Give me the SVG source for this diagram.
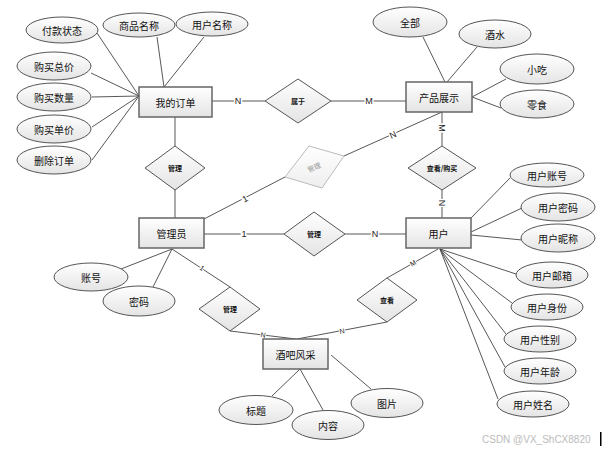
<svg xmlns="http://www.w3.org/2000/svg" width="602" height="450" viewBox="0 0 602 450">
<defs>
<linearGradient id="g" x1="0" y1="0" x2="0" y2="1">
<stop offset="0" stop-color="#ffffff"/>
<stop offset="1" stop-color="#e4e4e4"/>
</linearGradient>
<linearGradient id="gg" x1="0" y1="0" x2="0" y2="1">
<stop offset="0" stop-color="#ffffff"/>
<stop offset="1" stop-color="#eeeeee"/>
</linearGradient>
<style>
.e{fill:url(#g);stroke:#555;stroke-width:1}
.r{fill:url(#g);stroke:#666;stroke-width:1.5}
.d{fill:url(#g);stroke:#555;stroke-width:1}
.dg{fill:url(#gg);stroke:#bbb;stroke-width:1}
.t{font-family:"Noto Sans CJK SC","Liberation Sans",sans-serif;font-size:10px;fill:#111;text-anchor:middle;dominant-baseline:central}
.ts{font-family:"Noto Sans CJK SC","Liberation Sans",sans-serif;font-size:7px;fill:#111;text-anchor:middle;dominant-baseline:central;font-weight:bold}
.c line{stroke:#444;stroke-width:0.9}
.l{font-family:"Liberation Sans",sans-serif;font-size:9px;fill:#222;text-anchor:middle;dominant-baseline:central;paint-order:stroke;stroke:#fff;stroke-width:3}
.ls{font-family:"Liberation Sans",sans-serif;font-size:7px;fill:#222;text-anchor:middle;dominant-baseline:central;paint-order:stroke;stroke:#fff;stroke-width:2}
</style>
</defs>
<rect width="602" height="450" fill="#fff"/>
<g class="c" id="connectors">
<line x1="97" y1="33" x2="139" y2="96"/>
<line x1="157" y1="37" x2="164" y2="87"/>
<line x1="204" y1="37" x2="164" y2="87"/>
<line x1="91" y1="73" x2="139" y2="96"/>
<line x1="92" y1="97" x2="139" y2="96"/>
<line x1="92" y1="127" x2="139" y2="96"/>
<line x1="92" y1="160" x2="139" y2="96"/>
<line x1="212" y1="101" x2="265" y2="101"/>
<line x1="331" y1="101" x2="406" y2="101"/>
<line x1="175" y1="117" x2="175" y2="146"/>
<line x1="175" y1="190" x2="175" y2="219"/>
<line x1="423" y1="37" x2="445" y2="82"/>
<line x1="477" y1="47" x2="447" y2="82"/>
<line x1="506" y1="79" x2="472" y2="97"/>
<line x1="501" y1="108" x2="472" y2="97"/>
<line x1="442" y1="112" x2="442" y2="146"/>
<line x1="442" y1="190" x2="442" y2="219"/>
<line x1="204" y1="219" x2="285" y2="177"/>
<line x1="344" y1="156" x2="442" y2="112"/>
<line x1="204" y1="234" x2="284" y2="234"/>
<line x1="345" y1="234" x2="406" y2="234"/>
<line x1="510" y1="178" x2="471" y2="218"/>
<line x1="522" y1="208" x2="471" y2="232"/>
<line x1="522" y1="240" x2="471" y2="235"/>
<line x1="516" y1="274" x2="440" y2="249"/>
<line x1="512" y1="303" x2="440" y2="249"/>
<line x1="506" y1="334" x2="440" y2="249"/>
<line x1="505" y1="367" x2="440" y2="249"/>
<line x1="498" y1="399" x2="440" y2="249"/>
<line x1="121" y1="269" x2="172" y2="249"/>
<line x1="153" y1="287" x2="172" y2="249"/>
<line x1="172" y1="249" x2="230" y2="287"/>
<line x1="230" y1="331" x2="296" y2="339"/>
<line x1="387" y1="278" x2="438" y2="249"/>
<line x1="387" y1="322" x2="297" y2="339"/>
<line x1="272" y1="396" x2="300" y2="369"/>
<line x1="323" y1="410" x2="300" y2="369"/>
<line x1="371" y1="389" x2="331" y2="355"/>
<text class="l" x="238" y="101">N</text>
<text class="l" x="369" y="101">M</text>
<text class="l" x="442" y="128" transform="rotate(90 442 128)">M</text>
<text class="l" x="442" y="203" transform="rotate(90 442 203)">N</text>
<text class="l" x="393" y="135" transform="rotate(-25 393 135)">N</text>
<text class="l" x="245" y="199" transform="rotate(-28 245 199)">1</text>
<text class="l" x="244" y="234">1</text>
<text class="l" x="375" y="234">N</text>
<text class="ls" x="202" y="268" transform="rotate(35 202 268)">1</text>
<text class="ls" x="263" y="335" transform="rotate(8 263 335)">N</text>
<text class="ls" x="342" y="331" transform="rotate(-10 342 331)">N</text>
<text class="ls" x="413" y="263" transform="rotate(-30 413 263)">M</text>
</g>
<g id="attr-fukuan"><ellipse class="e" cx="62" cy="30" rx="36" ry="13"/><text class="t" x="62" y="30">付款状态</text></g>
<g id="attr-shangpin"><ellipse class="e" cx="139" cy="25" rx="36" ry="12"/><text class="t" x="139" y="25">商品名称</text></g>
<g id="attr-yonghumc"><ellipse class="e" cx="212" cy="24" rx="36" ry="12"/><text class="t" x="212" y="24">用户名称</text></g>
<g id="attr-zongjia"><ellipse class="e" cx="54" cy="66" rx="37" ry="14"/><text class="t" x="54" y="66">购买总价</text></g>
<g id="attr-shuliang"><ellipse class="e" cx="54" cy="97" rx="37" ry="14"/><text class="t" x="54" y="97">购买数量</text></g>
<g id="attr-danjia"><ellipse class="e" cx="54" cy="129" rx="37" ry="14"/><text class="t" x="54" y="129">购买单价</text></g>
<g id="attr-shanchu"><ellipse class="e" cx="54" cy="160" rx="37" ry="14"/><text class="t" x="54" y="160">删除订单</text></g>
<g id="order"><rect class="r" x="139" y="87" width="73" height="30"/><text class="t" x="175.5" y="102">我的订单</text></g>
<g id="rel-shuyu"><polygon class="d" points="265,101 298,79 331,101 298,123"/><text class="ts" x="298" y="101">属于</text></g>
<g id="product"><rect class="r" x="406" y="82" width="66" height="30"/><text class="t" x="439" y="97">产品展示</text></g>
<g id="attr-quanbu"><ellipse class="e" cx="410" cy="22" rx="37" ry="15"/><text class="t" x="410" y="22">全部</text></g>
<g id="attr-jiushui"><ellipse class="e" cx="495" cy="34" rx="36" ry="14"/><text class="t" x="495" y="34">酒水</text></g>
<g id="attr-xiaochi"><ellipse class="e" cx="537" cy="69" rx="37" ry="15"/><text class="t" x="537" y="69">小吃</text></g>
<g id="attr-lingshi"><ellipse class="e" cx="537" cy="104" rx="37" ry="14"/><text class="t" x="537" y="104">零食</text></g>
<g id="rel-guanli-order"><polygon class="d" points="145,168 175,146 205,168 175,190"/><text class="ts" x="175" y="168">管理</text></g>
<g id="rel-guanli-product"><polygon class="dg" points="285,177 309,146 344,156 322,188"/><text class="ts" x="314" y="167" transform="rotate(-22 314 167)" style="fill:#999;font-weight:normal">管理</text></g>
<g id="rel-chakan-goumai"><polygon class="d" points="408,168 442,146 476,168 442,190"/><text class="ts" x="442" y="168">查看/购买</text></g>
<g id="admin"><rect class="r" x="139" y="218" width="65" height="30"/><text class="t" x="171.5" y="233">管理员</text></g>
<g id="rel-guanli-user"><polygon class="d" points="284,234 314,212 345,234 314,256"/><text class="ts" x="314" y="234">管理</text></g>
<g id="user"><rect class="r" x="406" y="218" width="65" height="30"/><text class="t" x="438.5" y="233">用户</text></g>
<g id="attr-zhanghao-u"><ellipse class="e" cx="547" cy="175" rx="37" ry="12"/><text class="t" x="547" y="175">用户账号</text></g>
<g id="attr-mima-u"><ellipse class="e" cx="558" cy="207" rx="37" ry="14"/><text class="t" x="558" y="207">用户密码</text></g>
<g id="attr-nicheng"><ellipse class="e" cx="558" cy="238" rx="37" ry="14"/><text class="t" x="558" y="238">用户昵称</text></g>
<g id="attr-youxiang"><ellipse class="e" cx="552" cy="275" rx="36" ry="13"/><text class="t" x="552" y="275">用户邮箱</text></g>
<g id="attr-shenfen"><ellipse class="e" cx="547" cy="307" rx="36" ry="13"/><text class="t" x="547" y="307">用户身份</text></g>
<g id="attr-xingbie"><ellipse class="e" cx="540" cy="339" rx="36" ry="13"/><text class="t" x="540" y="339">用户性别</text></g>
<g id="attr-nianling"><ellipse class="e" cx="540" cy="371" rx="36" ry="13"/><text class="t" x="540" y="371">用户年龄</text></g>
<g id="attr-xingming"><ellipse class="e" cx="533" cy="404" rx="36" ry="13"/><text class="t" x="533" y="404">用户姓名</text></g>
<g id="attr-zhanghao"><ellipse class="e" cx="91" cy="277" rx="37" ry="14"/><text class="t" x="91" y="277">账号</text></g>
<g id="attr-mima"><ellipse class="e" cx="139" cy="301" rx="36" ry="15"/><text class="t" x="139" y="301">密码</text></g>
<g id="rel-guanli-bar"><polygon class="d" points="199,309 230,287 260,309 230,331"/><text class="ts" x="230" y="309">管理</text></g>
<g id="rel-chakan"><polygon class="d" points="357,300 387,278 417,300 387,322"/><text class="ts" x="387" y="300">查看</text></g>
<g id="bar"><rect class="r" x="263" y="339" width="65" height="30"/><text class="t" x="295.5" y="354">酒吧风采</text></g>
<g id="attr-biaoti"><ellipse class="e" cx="256" cy="410" rx="37" ry="14.5"/><text class="t" x="256" y="410">标题</text></g>
<g id="attr-neirong"><ellipse class="e" cx="328" cy="425" rx="36" ry="14.5"/><text class="t" x="328" y="425">内容</text></g>
<g id="attr-tupian"><ellipse class="e" cx="387" cy="403" rx="36" ry="14.5"/><text class="t" x="387" y="403">图片</text></g>
<text x="482" y="443" style="font-family:'Liberation Sans',sans-serif;font-size:10px;fill:#bbb">CSDN @VX_ShCX8820</text>
<rect x="600" y="432" width="1.5" height="14" fill="#000"/>
</svg>
